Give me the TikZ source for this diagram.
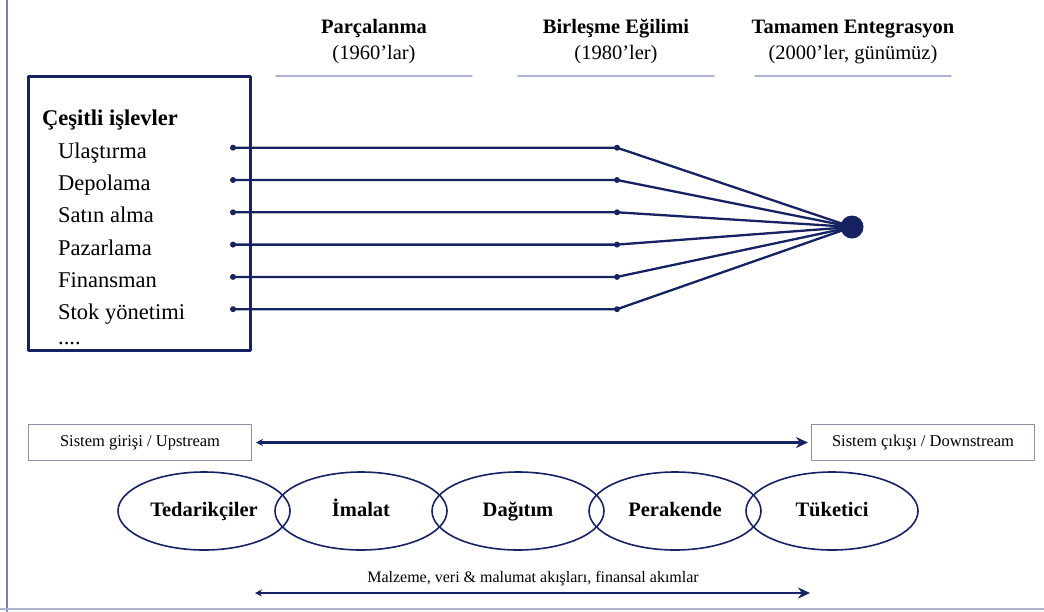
\documentclass[tikz,border=0pt]{standalone}
\usepackage{fontspec}
\setmainfont{Liberation Serif}
\usetikzlibrary{arrows.meta,shapes.geometric}
\definecolor{lacivert}{RGB}{22,34,98}
\definecolor{acik}{RGB}{172,180,212}
\definecolor{kenar}{RGB}{112,128,184}
\begin{document}
\begin{tikzpicture}[x=1pt,y=-1pt,line join=round,line cap=round,
	baslik/.style={font=\fontsize{20.5}{24}\selectfont\bfseries,anchor=base},
	donem/.style={font=\fontsize{20.5}{24}\selectfont,anchor=base},
	islev/.style={font=\fontsize{22.5}{26}\selectfont,anchor=base west,inner sep=0pt},
	kutucuk/.style={draw=acik!80!black,line width=1pt,font=\fontsize{16.5}{20}\selectfont,anchor=north west,minimum width=223pt,minimum height=36pt,inner sep=0pt},
	halka/.style={ellipse,draw=lacivert,line width=1.6pt,minimum width=172pt,minimum height=78pt,inner sep=0pt,text height=14pt,text depth=4pt,font=\fontsize{20.5}{24}\selectfont\bfseries},
	cift/.style={lacivert,line width=2.4pt,{Stealth[length=7pt,width=7pt]}-{Stealth[length=12pt,width=11pt]}}]
			\useasboundingbox (0,0) rectangle (1044,611);
			\draw[kenar,line width=2pt] (6.5,0) -- (6.5,611);
			\draw[acik,line width=2pt] (0,608.5) -- (1044,608.5);
			\foreach \ad/\x/\bas/\yil in {P/374/Parçalanma/(1960’lar),B/616/Birleşme Eğilimi/(1980’ler),T/853/Tamamen Entegrasyon/{(2000’ler, günümüz)}}{
				\node[baslik] (\ad1) at (\x,33) {\bas};
				\node[donem] (\ad2) at (\x,59) {\yil};
				\draw[acik,line width=1.2pt] (\x-98,76) -- (\x+98,76);
			}
			\draw[lacivert,line width=3pt] (28,76) rectangle (250,350);
			\node[islev,font=\fontsize{22.5}{26}\selectfont\bfseries] (cesit) at (42,125) {Çeşitli işlevler};
			\node[islev] (nokta) at (58,344) {....};
			\node[circle,fill=lacivert,minimum size=23pt,inner sep=0pt] (E) at (852,227) {};
			\foreach \ad [count=\i] in {Ulaştırma,Depolama,Satın alma,Pazarlama,Finansman,Stok yönetimi}{
				\pgfmathsetmacro\yy{147.7+32.3*(\i-1)}
				\node[islev] (f\i) at (58,\yy+10.5) {\ad};
				\path (233,\yy) coordinate (L\i) (617,\yy) coordinate (M\i);
				\draw[lacivert,line width=2.3pt] (L\i) -- (M\i) -- (E.center);
				\fill[lacivert] (L\i) circle (3pt) (M\i) circle (3pt);
			}
			\node[kutucuk] (giris) at (28,424) {Sistem girişi / Upstream};
			\node[kutucuk] (cikis) at (811,424) {Sistem çıkışı / Downstream};
			\draw[cift,shorten <=4pt,shorten >=3pt] (giris.east) -- (cikis.west);
			\foreach \ad/\yazi [count=\i] in {ted/Tedarikçiler,ima/İmalat,dag/Dağıtım,per/Perakende,tuk/Tüketici}
				\node[halka] (\ad) at ({47+157*\i},511) {\yazi};
			\node[font=\fontsize{16}{20}\selectfont,anchor=base] (akis) at (533,582) {Malzeme, veri \& malumat akışları, finansal akımlar};
			\path (255,593) coordinate (a1) (810,593) coordinate (a2);
			\draw[cift] (a1) -- (a2);
		\end{tikzpicture}
\end{document}
